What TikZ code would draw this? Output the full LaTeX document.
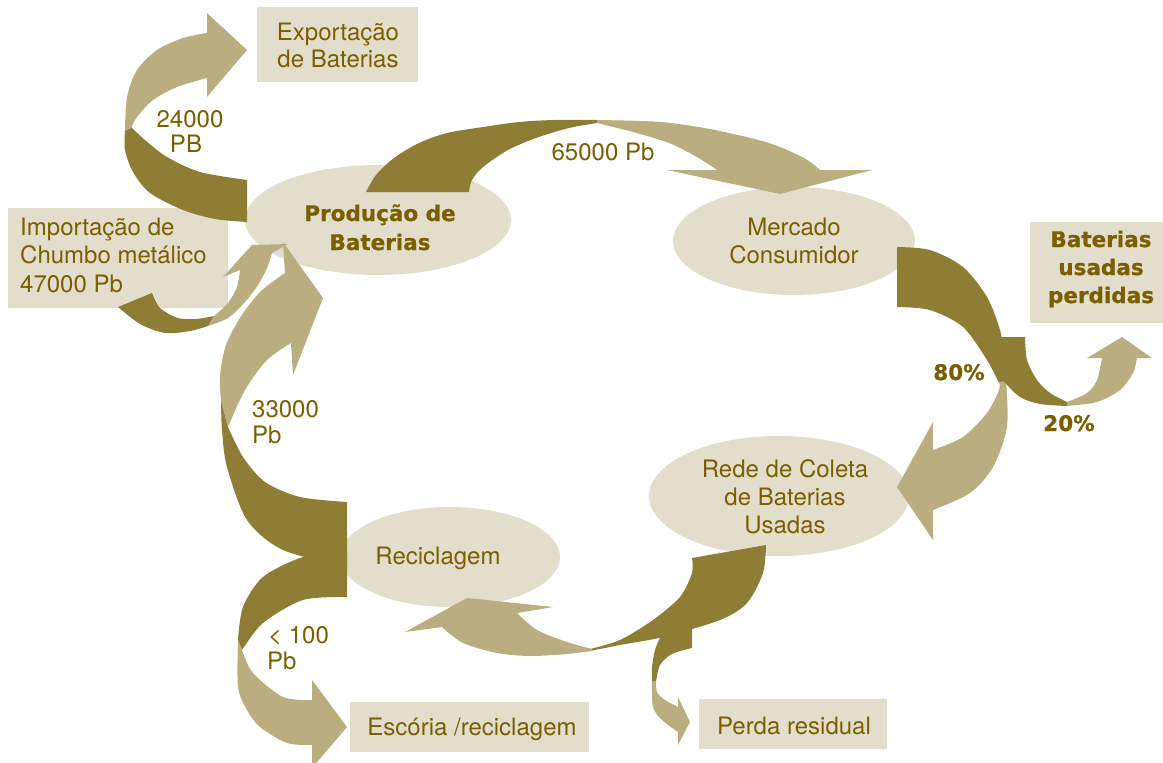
\documentclass[tikz,border=0pt]{standalone}
\usepackage{fontspec}
\setmainfont{TeX Gyre Heros}
\newfontfamily\dejavu{DejaVu Sans}[BoldFeatures={FakeBold=0.7}]
\usetikzlibrary{shapes.geometric}
\definecolor{dk}{RGB}{142,125,53}
\definecolor{lt}{RGB}{186,174,128}
\definecolor{bg}{RGB}{227,222,204}
\definecolor{tx}{RGB}{122,94,0}
\tikzset{
  box/.style={fill=bg, draw=none, inner sep=0pt},
  oval/.style={ellipse, fill=bg, draw=none, inner sep=0pt},
  lbl/.style={text=tx, font=\fontsize{24}{28}\selectfont, inner sep=0pt, anchor=base},
  lblw/.style={lbl, anchor=base west},
  blbl/.style={text=tx, font=\dejavu\bfseries\fontsize{21.5}{26}\selectfont, inner sep=0pt, anchor=base},
  darkpart/.style={fill=dk},
  lightpart/.style={fill=lt}
}
\begin{document}
\begin{tikzpicture}[x=1pt,y=-1pt]
\clip (0,0) rectangle (1163,763);
% boxes
\node[box, minimum width=161pt, minimum height=75pt, anchor=north west] (expbox) at (257,7) {};
\node[box, minimum width=220pt, minimum height=100pt, anchor=north west] (impbox) at (8,208) {};
\node[box, minimum width=140pt, minimum height=101pt, anchor=north west] (perbox) at (1030,222) {};
\node[box, minimum width=239pt, minimum height=50pt, anchor=north west] (escbox) at (350,702) {};
\node[box, minimum width=188pt, minimum height=50pt, anchor=north west] (resbox) at (699,699) {};
% ellipses
\node[oval, minimum width=266pt, minimum height=110pt] (prod) at (378,220) {};
\node[oval, minimum width=242pt, minimum height=108pt] (merc) at (794,241) {};
\node[oval, minimum width=260pt, minimum height=120pt] (rede) at (779,496) {};
\node[oval, minimum width=220pt, minimum height=100pt] (reci) at (450,557) {};
% A: Producao -> Exportacao
\fill[darkpart] plot[smooth] coordinates {(247,180) (200,172) (167,157) (145,140) (131,127)} -- plot[smooth] coordinates {(125,130) (125,150) (133,172) (150,193) (183,210) (215,219) (247,222)} -- cycle;
\fill[lightpart] plot[smooth] coordinates {(125,131) (127,97) (137,70) (157,50) (183,38) (207,33)} -- (207,13) -- (247,50) -- (207,97) -- plot[smooth] coordinates {(207,78) (177,87) (153,100) (137,117) (131,128)} -- cycle;
% B: Importacao -> Producao
\fill[darkpart] plot[smooth] coordinates {(152,293) (160,308) (178,318) (196,319) (214,316)} -- plot[smooth] coordinates {(208,326) (190,331) (165,333) (140,324) (118,307)} -- cycle;
\fill[lightpart] plot[smooth] coordinates {(208,326) (228,318) (245,302) (258,285) (267,268) (272,253)} -- (288,244) -- (252,245) -- (223,277) -- plot[smooth] coordinates {(240,270) (237,287) (228,303) (214,316)} -- cycle;
% G: Reciclagem -> Producao
\fill[darkpart] plot[smooth] coordinates {(347,502) (300,497) (265,482) (243,457) (228,427)} -- plot[smooth] coordinates {(221,400) (222,430) (227,467) (247,520) (283,550) (347,567)} -- cycle;
\fill[lightpart] plot[smooth] coordinates {(221,401) (220,375) (226,345) (240,318) (260,292) (285,273)} -- (283,242) -- (323,298) -- (293,375) -- plot[smooth] coordinates {(291,343) (267,360) (245,390) (228,427)} -- cycle;
% C: Producao -> Mercado
\fill[darkpart] plot[smooth] coordinates {(366,192) (376,175) (394,158) (419,143) (447,133) (483,127) (519,122) (554,120) (597,120)} -- plot[smooth] coordinates {(597,123) (569,128) (536,138) (508,150) (483,167) (472,180) (469,192)} -- cycle;
\fill[lightpart] plot[smooth] coordinates {(597,120) (661,122) (715,130) (769,143) (804,158) (820,170)} -- (872,170) -- (780,194) -- (667,170) -- plot[smooth] coordinates {(717,170) (697,157) (669,143) (633,132) (597,123)} -- cycle;
% D: Mercado -> Rede
\fill[darkpart] plot[smooth] coordinates {(897,247) (930,250) (963,267) (987,297) (1000,330) (1005,360) (1006,382)} -- plot[smooth] coordinates {(999,383) (987,360) (963,327) (930,310) (897,307)} -- cycle;
\fill[lightpart] plot[smooth] coordinates {(1006,381) (1007,427) (993,467) (970,493) (933,510)} -- (933,540) -- (897,487) -- (933,422) -- plot[smooth] coordinates {(933,450) (963,437) (987,413) (999,390) (999,382)} -- cycle;
% E: -> Baterias usadas perdidas
\fill[darkpart] plot[smooth] coordinates {(990,337) (992,360) (1003,380) (1020,397) (1040,404) (1067,406)} -- plot[smooth] coordinates {(1067,402) (1050,393) (1037,380) (1027,360) (1025,337)} -- cycle;
\fill[lightpart] plot[smooth] coordinates {(1067,406) (1097,402) (1120,390) (1133,373) (1137,358)} -- (1152,358) -- (1122,337) -- (1087,358) -- plot[smooth] coordinates {(1102,358) (1097,380) (1087,393) (1067,402)} -- cycle;
% H: Reciclagem -> Escoria
\fill[darkpart] plot[smooth] coordinates {(347,552) (303,557) (263,577) (243,607) (238,640)} -- plot[smooth] coordinates {(242,650) (263,623) (303,600) (347,597)} -- cycle;
\fill[lightpart] plot[smooth] coordinates {(238,640) (238,687) (247,710) (260,727) (287,743) (312,745)} -- (312,768) -- (347,727) -- (312,680) -- plot[smooth] coordinates {(312,700) (283,697) (253,673) (242,650)} -- cycle;
% I: Rede -> Perda residual
\fill[darkpart] plot[smooth] coordinates {(662,633) (655,650) (652,668) (652,682)} -- plot[smooth] coordinates {(656,682) (660,665) (672,654) (692,648)} -- (692,628) -- cycle;
\fill[lightpart] plot[smooth] coordinates {(652,681) (653,707) (662,720) (678,732)} -- (678,745) -- (690,722) -- (678,697) -- plot[smooth] coordinates {(678,707) (665,700) (657,692) (656,681)} -- cycle;
% F: Rede -> Reciclagem
\fill[darkpart] plot[smooth] coordinates {(692,558) (692,573) (680,597) (653,620) (620,640) (590,649)} -- plot[smooth] coordinates {(590,651) (620,645) (663,637) (720,620) (747,603) (763,573) (766,545)} -- cycle;
\fill[lightpart] plot[smooth] coordinates {(592,651) (567,654) (530,656) (497,653) (463,643) (442,627)} -- (405,632) -- (467,598) -- (553,607) -- plot[smooth] coordinates {(517,613) (537,630) (567,642) (592,649)} -- cycle;
% texts
\node[lbl] (exp1) at (338,40) {Exportação};
\node[lbl] (exp2) at (338,67) {de Baterias};
\node[blbl] (prod1) at (380,221) {Produção de};
\node[blbl] (prod2) at (380,250) {Baterias};
\node[lbl] (merc1) at (794,235) {Mercado};
\node[lbl] (merc2) at (794,263) {Consumidor};
\node[lbl] (rede1) at (785,477) {Rede de Coleta};
\node[lbl] (rede2) at (785,505) {de Baterias};
\node[lbl] (rede3) at (785,533) {Usadas};
\node[lbl] (reci1) at (438,564) {Reciclagem};
\node[lblw] (imp1) at (20,235) {Importação de};
\node[lblw] (imp2) at (20,263) {Chumbo metálico};
\node[lblw] (imp3) at (20,292) {47000 Pb};
\node[blbl] (per1) at (1101,247) {Baterias};
\node[blbl] (per2) at (1101,275) {usadas};
\node[blbl] (per3) at (1101,303) {perdidas};
\node[lbl] (esc1) at (472,735) {Escória /reciclagem};
\node[lbl] (res1) at (794,734) {Perda residual};
\node[lbl] (v24a) at (190,127) {24000};
\node[lbl] (v24b) at (186,152) {PB};
\node[lbl] (v65) at (603,160) {65000 Pb};
\node[blbl] (p80) at (959,380) {80\%};
\node[blbl] (p20) at (1069,431) {20\%};
\node[lblw] (v33a) at (252,417) {33000};
\node[lblw] (v33b) at (252,443) {Pb};
\node[lblw] (v100a) at (268,643) {< 100};
\node[lblw] (v100b) at (267,669) {Pb};
\end{tikzpicture}
\end{document}
